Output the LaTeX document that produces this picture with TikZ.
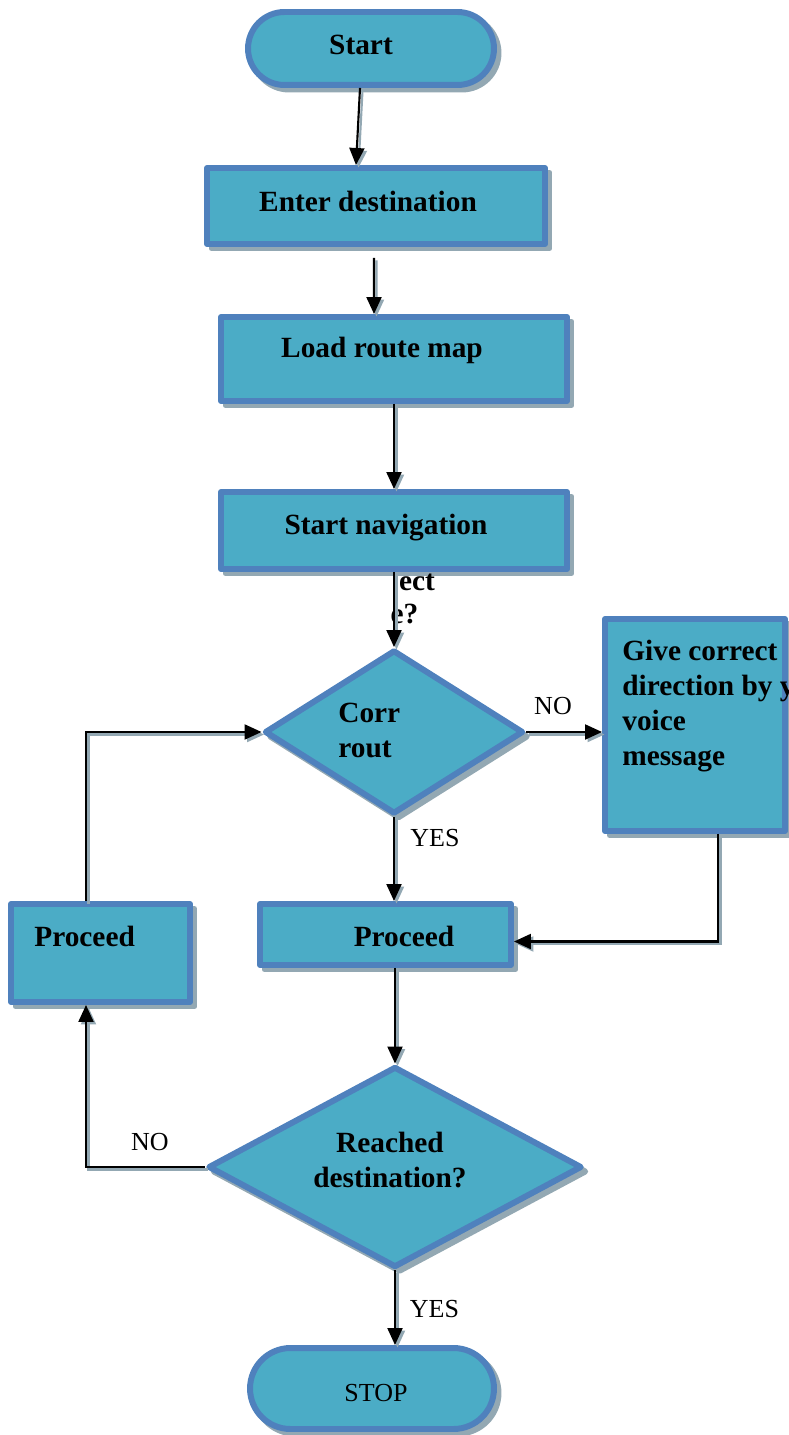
\documentclass[tikz,border=0pt]{standalone}
\usepackage{fontspec}
\setmainfont{Liberation Serif}
\usetikzlibrary{shapes.geometric,shapes.misc,shadows,arrows.meta}
\definecolor{boxfill}{HTML}{4BACC6}
\definecolor{boxline}{HTML}{4F81BD}
\definecolor{shadowgray}{HTML}{93A8B3}

\begin{document}
\begin{tikzpicture}[x=0.02cm,y=-0.02cm,
    shapebase/.style={draw=boxline,fill=boxfill,line width=3.4pt,inner sep=0pt,line join=round,
      drop shadow={shadow xshift=0.09cm,shadow yshift=-0.09cm,opacity=1,fill=shadowgray,draw=shadowgray,line width=3.4pt}},
    box/.style={shapebase,rectangle},
    term/.style={shapebase,rounded rectangle},
    dec/.style={shapebase,diamond},
    txt/.style={font=\fontsize{16.7}{19.8}\selectfont\bfseries,inner sep=0pt},
    lbl/.style={font=\fontsize{14.8}{17}\selectfont,inner sep=0pt},
    conn/.style={line width=1.2pt,-{Triangle[length=0.34cm,width=0.3cm]},
      preaction={draw=shadowgray,line width=1.2pt,transform canvas={shift={(0.05cm,-0.05cm)}}}}]
    \useasboundingbox (0,0) rectangle (788,1435);

    % shapes
    \node[term,minimum width=4.92cm,minimum height=1.46cm] (start) at (371,48.5) {};
    \node[box,minimum width=6.76cm,minimum height=1.52cm] (enter) at (376,206) {};
    \node[box,minimum width=6.92cm,minimum height=1.68cm] (load) at (394,359) {};
    \node[box,minimum width=6.92cm,minimum height=1.54cm] (nav) at (394,530.5) {};
    \node[dec,minimum width=5.18cm,minimum height=3.28cm] (corr) at (394,732) {};
    \node[box,minimum width=3.6cm,minimum height=4.24cm] (gdir) at (695,725) {};
    \node[box,minimum width=3.58cm,minimum height=1.96cm] (proc1) at (100.5,953) {};
    \node[box,minimum width=5.02cm,minimum height=1.22cm] (proc2) at (385.5,934.5) {};
    \node[dec,minimum width=7.48cm,minimum height=4.02cm] (reach) at (395,1167) {};
    \node[term,minimum width=4.88cm,minimum height=1.62cm] (stop) at (372,1388.5) {};

    % texts
    \node[txt,anchor=base] (starttxt) at (361,55) {Start};
    \node[txt,anchor=base] (entertxt) at (368,212) {Enter destination};
    \node[txt,anchor=base] (loadtxt) at (382,358) {Load route map};
    \node[txt,anchor=base] (navtxt) at (386,534) {Start navigation};
    \node[txt,anchor=base] (ecttxt) at (417,590) {ect};
    \node[txt,anchor=base] (qtxt) at (404.5,623) {e?};
    \node[txt,anchor=north west,align=left] (corrtxt) at (338,703) {Corr\\rout};
    \node[txt,anchor=north west,align=left] (gdirtxt) at (622,640) {Give correct\\direction by y\\voice\\message};
    \node[txt,anchor=base west] (proc1txt) at (34,946) {Proceed};
    \node[txt,anchor=base] (proc2txt) at (404,946) {Proceed};
    \node[txt,align=center] (reachtxt) at (390,1160) {Reached\\destination?};
    \node[lbl,anchor=base] (stoptxt) at (376,1401) {STOP};
    \node[lbl,anchor=base] (no1) at (553,714.5) {NO};
    \node[lbl,anchor=base] (yes1) at (435,846.5) {YES};
    \node[lbl,anchor=base] (no2) at (150,1150) {NO};
    \node[lbl,anchor=base] (yes2) at (434.5,1317.5) {YES};

    % connectors
    \draw[conn] ([xshift=-0.22cm]start.south) -- ([xshift=-0.4cm]enter.north);
    \draw[conn] ([xshift=-0.04cm,yshift=-0.22cm]enter.south) -- ([xshift=-0.4cm]load.north);
    \draw[conn] (load.south) -- (nav.north);
    \draw[conn] (nav.south) -- (corr.north);
    \draw[conn] (corr.east) -- (corr.east -| gdir.west);
    \draw[conn] (corr.south) -- (corr.south |- proc2.north);
    \draw[conn] ([xshift=0.46cm]gdir.south) |- ([yshift=-0.14cm]proc2.east);
    \draw[conn] ([xshift=-0.29cm]proc1.north) |- (corr.west);
    \draw[conn] (proc2.south -| reach.north) -- (reach.north);
    \draw[conn] (reach.west) -| ([xshift=-0.29cm]proc1.south);
    \draw[conn] (reach.south) -- (reach.south |- stop.north);
\end{tikzpicture}
\end{document}
